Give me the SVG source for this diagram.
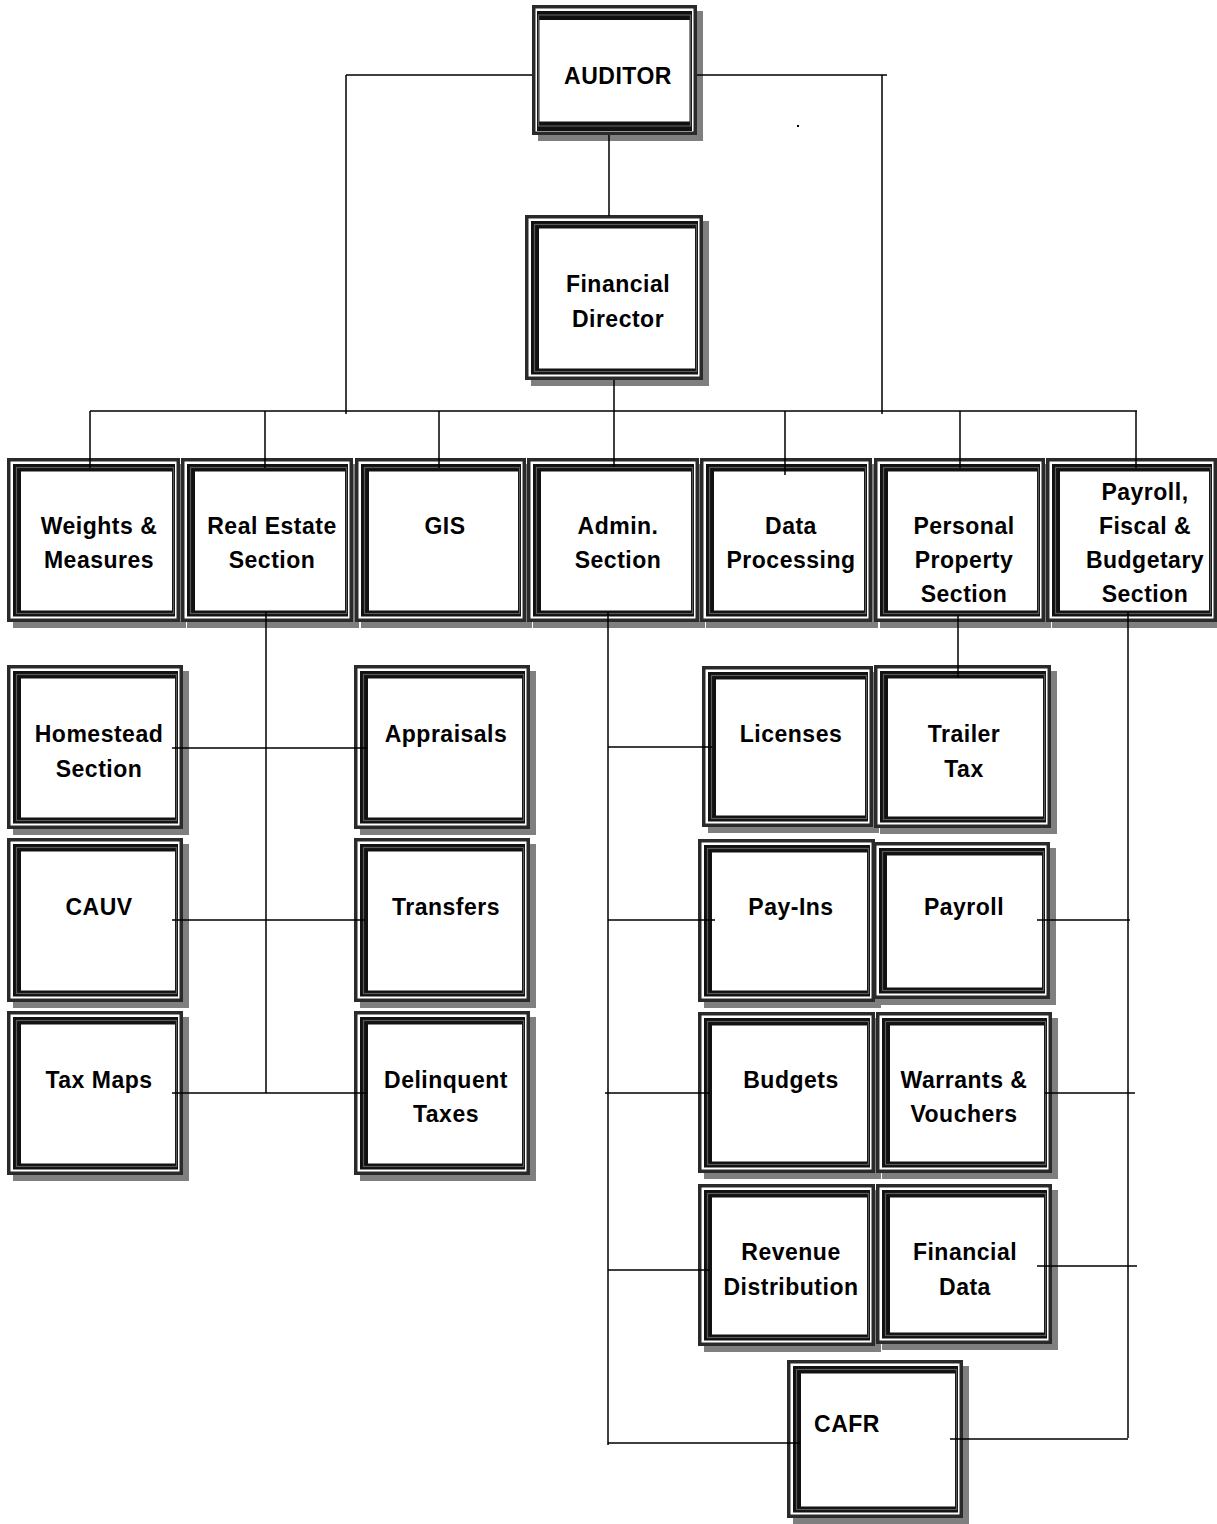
<svg xmlns="http://www.w3.org/2000/svg" width="1217" height="1524" viewBox="0 0 1217 1524">
<style>
.sh{fill:#7f7f7f}
.o{fill:#2a2a2a}
.g{fill:#fff}
.b{fill:#111}
.st{fill:none;stroke:#5a5a5a;stroke-width:1.2}
.i{fill:#fff}
text{font-family:"Liberation Sans",Arial,sans-serif;font-weight:bold;font-size:23px;letter-spacing:0.5px;text-anchor:middle;fill:#000}
.c{fill:none;stroke:#000;stroke-width:1.5}
</style>
<rect width="1217" height="1524" fill="#fff"/>
<g id="nodes">
<g id="n-auditor"><rect class="sh" x="538" y="11" width="165" height="130"/><rect class="o" x="532" y="5" width="165" height="130"/><rect class="g" x="535.5" y="8.5" width="158" height="123"/><rect class="b" x="537" y="11" width="155" height="120"/><rect class="st" x="538.5" y="15" width="152" height="111"/><rect class="i" x="539.5" y="20" width="150" height="101.5"/><text x="618" y="84">AUDITOR</text></g>
<g id="n-fd"><rect class="sh" x="531" y="221" width="178" height="165"/><rect class="o" x="525" y="215" width="178" height="165"/><rect class="g" x="528.5" y="218.5" width="171" height="158"/><rect class="b" x="531" y="221" width="167" height="153.5"/><rect class="st" x="534.5" y="224.5" width="162" height="147"/><rect class="i" x="539" y="228.5" width="156" height="140"/><text x="618" y="292">Financial</text><text x="618" y="327">Director</text></g>
<g id="n-wm"><rect class="sh" x="13" y="464" width="173" height="164"/><rect class="o" x="7" y="458" width="173" height="164"/><rect class="g" x="10.5" y="461.5" width="166" height="157"/><rect class="b" x="13" y="464" width="162" height="152.5"/><rect class="st" x="16.5" y="467.5" width="157" height="146"/><rect class="i" x="21" y="471.5" width="151" height="139"/><text x="99" y="534">Weights &amp;</text><text x="99" y="568">Measures</text></g>
<g id="n-re"><rect class="sh" x="187" y="464" width="172" height="164"/><rect class="o" x="181" y="458" width="172" height="164"/><rect class="g" x="184.5" y="461.5" width="165" height="157"/><rect class="b" x="187" y="464" width="161" height="152.5"/><rect class="st" x="190.5" y="467.5" width="156" height="146"/><rect class="i" x="195" y="471.5" width="150" height="139"/><text x="272" y="534">Real Estate</text><text x="272" y="568">Section</text></g>
<g id="n-gis"><rect class="sh" x="361" y="464" width="171" height="164"/><rect class="o" x="355" y="458" width="171" height="164"/><rect class="g" x="358.5" y="461.5" width="164" height="157"/><rect class="b" x="361" y="464" width="160" height="152.5"/><rect class="st" x="364.5" y="467.5" width="155" height="146"/><rect class="i" x="369" y="471.5" width="149" height="139"/><text x="445" y="534">GIS</text></g>
<g id="n-admin"><rect class="sh" x="533" y="464" width="172" height="164"/><rect class="o" x="527" y="458" width="172" height="164"/><rect class="g" x="530.5" y="461.5" width="165" height="157"/><rect class="b" x="533" y="464" width="161" height="152.5"/><rect class="st" x="536.5" y="467.5" width="156" height="146"/><rect class="i" x="541" y="471.5" width="150" height="139"/><text x="618" y="534">Admin.</text><text x="618" y="568">Section</text></g>
<g id="n-dp"><rect class="sh" x="706" y="464" width="172" height="164"/><rect class="o" x="700" y="458" width="172" height="164"/><rect class="g" x="703.5" y="461.5" width="165" height="157"/><rect class="b" x="706" y="464" width="161" height="152.5"/><rect class="st" x="709.5" y="467.5" width="156" height="146"/><rect class="i" x="714" y="471.5" width="150" height="139"/><text x="791" y="534">Data</text><text x="791" y="568">Processing</text></g>
<g id="n-pp"><rect class="sh" x="880" y="464" width="171" height="164"/><rect class="o" x="874" y="458" width="171" height="164"/><rect class="g" x="877.5" y="461.5" width="164" height="157"/><rect class="b" x="880" y="464" width="160" height="152.5"/><rect class="st" x="883.5" y="467.5" width="155" height="146"/><rect class="i" x="888" y="471.5" width="149" height="139"/><text x="964" y="534">Personal</text><text x="964" y="568">Property</text><text x="964" y="602">Section</text></g>
<g id="n-pfb"><rect class="sh" x="1052" y="464" width="171" height="164"/><rect class="o" x="1046" y="458" width="171" height="164"/><rect class="g" x="1049.5" y="461.5" width="164" height="157"/><rect class="b" x="1052" y="464" width="160" height="152.5"/><rect class="st" x="1055.5" y="467.5" width="155" height="146"/><rect class="i" x="1060" y="471.5" width="149" height="139"/><text x="1145" y="500">Payroll,</text><text x="1145" y="534">Fiscal &amp;</text><text x="1145" y="568">Budgetary</text><text x="1145" y="602">Section</text></g>
<g id="n-homestead"><rect class="sh" x="13" y="671" width="176" height="164"/><rect class="o" x="7" y="665" width="176" height="164"/><rect class="g" x="10.5" y="668.5" width="169" height="157"/><rect class="b" x="13" y="671" width="165" height="152.5"/><rect class="st" x="16.5" y="674.5" width="160" height="146"/><rect class="i" x="21" y="678.5" width="154" height="139"/><text x="99" y="742">Homestead</text><text x="99" y="777">Section</text></g>
<g id="n-cauv"><rect class="sh" x="13" y="844" width="176" height="164"/><rect class="o" x="7" y="838" width="176" height="164"/><rect class="g" x="10.5" y="841.5" width="169" height="157"/><rect class="b" x="13" y="844" width="165" height="152.5"/><rect class="st" x="16.5" y="847.5" width="160" height="146"/><rect class="i" x="21" y="851.5" width="154" height="139"/><text x="99" y="915">CAUV</text></g>
<g id="n-taxmaps"><rect class="sh" x="13" y="1017" width="176" height="164"/><rect class="o" x="7" y="1011" width="176" height="164"/><rect class="g" x="10.5" y="1014.5" width="169" height="157"/><rect class="b" x="13" y="1017" width="165" height="152.5"/><rect class="st" x="16.5" y="1020.5" width="160" height="146"/><rect class="i" x="21" y="1024.5" width="154" height="139"/><text x="99" y="1088">Tax Maps</text></g>
<g id="n-appraisals"><rect class="sh" x="360" y="671" width="176" height="164"/><rect class="o" x="354" y="665" width="176" height="164"/><rect class="g" x="357.5" y="668.5" width="169" height="157"/><rect class="b" x="360" y="671" width="165" height="152.5"/><rect class="st" x="363.5" y="674.5" width="160" height="146"/><rect class="i" x="368" y="678.5" width="154" height="139"/><text x="446" y="742">Appraisals</text></g>
<g id="n-transfers"><rect class="sh" x="360" y="844" width="176" height="164"/><rect class="o" x="354" y="838" width="176" height="164"/><rect class="g" x="357.5" y="841.5" width="169" height="157"/><rect class="b" x="360" y="844" width="165" height="152.5"/><rect class="st" x="363.5" y="847.5" width="160" height="146"/><rect class="i" x="368" y="851.5" width="154" height="139"/><text x="446" y="915">Transfers</text></g>
<g id="n-delinquent"><rect class="sh" x="360" y="1017" width="176" height="164"/><rect class="o" x="354" y="1011" width="176" height="164"/><rect class="g" x="357.5" y="1014.5" width="169" height="157"/><rect class="b" x="360" y="1017" width="165" height="152.5"/><rect class="st" x="363.5" y="1020.5" width="160" height="146"/><rect class="i" x="368" y="1024.5" width="154" height="139"/><text x="446" y="1088">Delinquent</text><text x="446" y="1122">Taxes</text></g>
<g id="n-licenses"><rect class="sh" x="708" y="672" width="171" height="161"/><rect class="o" x="702" y="666" width="171" height="161"/><rect class="g" x="705.5" y="669.5" width="164" height="154"/><rect class="b" x="708" y="672" width="160" height="149.5"/><rect class="st" x="711.5" y="675.5" width="155" height="143"/><rect class="i" x="716" y="679.5" width="149" height="136"/><text x="791" y="742">Licenses</text></g>
<g id="n-trailer"><rect class="sh" x="880" y="671" width="177" height="163"/><rect class="o" x="874" y="665" width="177" height="163"/><rect class="g" x="877.5" y="668.5" width="170" height="156"/><rect class="b" x="880" y="671" width="166" height="151.5"/><rect class="st" x="883.5" y="674.5" width="161" height="145"/><rect class="i" x="888" y="678.5" width="155" height="138"/><text x="964" y="742">Trailer</text><text x="964" y="777">Tax</text></g>
<g id="n-payins"><rect class="sh" x="704" y="845" width="177" height="163"/><rect class="o" x="698" y="839" width="177" height="163"/><rect class="g" x="701.5" y="842.5" width="170" height="156"/><rect class="b" x="704" y="845" width="166" height="151.5"/><rect class="st" x="707.5" y="848.5" width="161" height="145"/><rect class="i" x="712" y="852.5" width="155" height="138"/><text x="791" y="915">Pay-Ins</text></g>
<g id="n-payroll"><rect class="sh" x="879" y="848" width="177" height="157"/><rect class="o" x="873" y="842" width="177" height="157"/><rect class="g" x="876.5" y="845.5" width="170" height="150"/><rect class="b" x="879" y="848" width="166" height="145.5"/><rect class="st" x="882.5" y="851.5" width="161" height="139"/><rect class="i" x="887" y="855.5" width="155" height="132"/><text x="964" y="915">Payroll</text></g>
<g id="n-budgets"><rect class="sh" x="704" y="1018" width="177" height="161"/><rect class="o" x="698" y="1012" width="177" height="161"/><rect class="g" x="701.5" y="1015.5" width="170" height="154"/><rect class="b" x="704" y="1018" width="166" height="149.5"/><rect class="st" x="707.5" y="1021.5" width="161" height="143"/><rect class="i" x="712" y="1025.5" width="155" height="136"/><text x="791" y="1088">Budgets</text></g>
<g id="n-warrants"><rect class="sh" x="882" y="1018" width="176" height="161"/><rect class="o" x="876" y="1012" width="176" height="161"/><rect class="g" x="879.5" y="1015.5" width="169" height="154"/><rect class="b" x="882" y="1018" width="165" height="149.5"/><rect class="st" x="885.5" y="1021.5" width="160" height="143"/><rect class="i" x="890" y="1025.5" width="154" height="136"/><text x="964" y="1088">Warrants &amp;</text><text x="964" y="1122">Vouchers</text></g>
<g id="n-revenue"><rect class="sh" x="704" y="1190" width="177" height="162"/><rect class="o" x="698" y="1184" width="177" height="162"/><rect class="g" x="701.5" y="1187.5" width="170" height="155"/><rect class="b" x="704" y="1190" width="166" height="150.5"/><rect class="st" x="707.5" y="1193.5" width="161" height="144"/><rect class="i" x="712" y="1197.5" width="155" height="137"/><text x="791" y="1260">Revenue</text><text x="791" y="1295">Distribution</text></g>
<g id="n-findata"><rect class="sh" x="882" y="1190" width="176" height="160"/><rect class="o" x="876" y="1184" width="176" height="160"/><rect class="g" x="879.5" y="1187.5" width="169" height="153"/><rect class="b" x="882" y="1190" width="165" height="148.5"/><rect class="st" x="885.5" y="1193.5" width="160" height="142"/><rect class="i" x="890" y="1197.5" width="154" height="135"/><text x="965" y="1260">Financial</text><text x="965" y="1295">Data</text></g>
<g id="n-cafr"><rect class="sh" x="793" y="1366" width="176" height="158"/><rect class="o" x="787" y="1360" width="176" height="158"/><rect class="g" x="790.5" y="1363.5" width="169" height="151"/><rect class="b" x="793" y="1366" width="165" height="146.5"/><rect class="st" x="796.5" y="1369.5" width="160" height="140"/><rect class="i" x="801" y="1373.5" width="154" height="133"/><text x="847" y="1432">CAFR</text></g>
</g>
<g id="connectors">
<path class="c" d="M346,75 H532 M697,75 H887 M346,75 V414 M882,75 V414 M609,135 V216 M614,380 V467"/>
<path class="c" d="M90,411 H1137 M90,411 V468 M265,411 V468 M439,411 V468 M785,411 V475 M960,411 V468 M1136,411 V468"/>
<path class="c" d="M266,612 V1093 M172,748 H367 M172,920 H365 M172,1093 H367"/>
<path class="c" d="M608,612 V1445 M608,747 H712 M608,920 H715 M605,1093 H710 M608,1270 H710 M608,1443 H800"/>
<path class="c" d="M958,615 V678"/>
<path class="c" d="M1128,612 V1438 M1037,920 H1130 M1045,1093 H1135 M1037,1266 H1137 M950,1439 H1128"/>
</g>
<rect x="797" y="125" width="2" height="2" fill="#000"/>
</svg>
